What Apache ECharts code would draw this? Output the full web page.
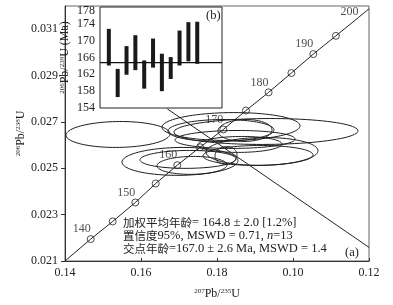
<!DOCTYPE html>
<html><head><meta charset="utf-8">
<script src="https://cdn.jsdelivr.net/npm/echarts@6/dist/echarts.min.js"></script>
<style>html,body{margin:0;padding:0;background:#fff}#c{width:393px;height:305px}</style>
</head><body><div id="c"></div>
<script>
// ---- main axis ticks ----
const xTickValues = [0.14, 0.16, 0.18, 0.20, 0.22];
const xTickLabels = ['0.14', '0.16', '0.18', '0.10', '0.12'];
const yTickValues = [0.021, 0.023, 0.025, 0.027, 0.029, 0.031];
const yTickLabels = ['0.021', '0.023', '0.025', '0.027', '0.029', '0.031'];

// ---- concordia curve (age markers, Ma) ----
const concordiaAges = [140, 145, 150, 155, 160, 165, 170, 175, 180, 185, 190, 195, 200];
const concordiaX = [0.14676, 0.15255, 0.15850, 0.16387, 0.16955, 0.17553, 0.18166, 0.18761, 0.19358, 0.19958, 0.20534, 0.21129, 0.21724];
const concordiaY = [0.021945, 0.022706, 0.023523, 0.024343, 0.025134, 0.025908, 0.026673, 0.027489, 0.028275, 0.029109, 0.029926, 0.030712, 0.031507];
const concordiaStart = [0.14, 0.021];
const concordiaEnd = [0.22, 0.03188];

// ---- discordia line ----
const discordiaX = [0.16692, 0.22];
const discordiaY = [0.027562, 0.021589];

// ---- error ellipses: centre, half-widths, correlation ----
const ellipseX  = [0.15395, 0.19289, 0.18368, 0.18105, 0.18737, 0.17026, 0.17237, 0.17342, 0.19184, 0.19079, 0.18237, 0.18605, 0.18474];
const ellipseY  = [0.026458, 0.026587, 0.026801, 0.026630, 0.026630, 0.025297, 0.025383, 0.025125, 0.025727, 0.025555, 0.025555, 0.026028, 0.026243];
const ellipseSX = [0.01368, 0.02421, 0.01816, 0.01395, 0.00711, 0.01526, 0.01263, 0.00921, 0.01474, 0.01447, 0.00289, 0.01105, 0.01579];
const ellipseSY = [0.000559, 0.000559, 0.000602, 0.000473, 0.000473, 0.000602, 0.000387, 0.000387, 0.000602, 0.000430, 0.000387, 0.000344, 0.000387];
const ellipseRho = [0.05, 0.05, 0.05, 0.05, 0.05, 0.05, 0.05, 0.05, 0.05, 0.05, 0.05, 0.05, 0.05];

// ---- inset (b): 206Pb/238U ages ----
const insetIndex = [1, 2, 3, 4, 5, 6, 7, 8, 9, 10, 11];
const ageLow  = [164.1, 156.6, 161.9, 163.0, 158.6, 163.6, 158.0, 160.9, 164.1, 165.1, 164.5];
const ageHigh = [172.8, 163.3, 168.7, 171.3, 165.3, 170.5, 166.9, 166.1, 172.4, 174.4, 174.5];
const weightedMean = 164.8;
const insetYTicks = [154, 158, 162, 166, 170, 174, 178];

const SERIF = '"Liberation Serif", "Times New Roman", serif';
const INK = '#222';

const chart = echarts.init(document.getElementById('c'), null, {renderer: 'canvas'});

const ellipseData = ellipseX.map((x, i) => [x, ellipseY[i], ellipseSX[i], ellipseSY[i], ellipseRho[i]]);
const concData = [concordiaStart].concat(concordiaX.map((x, i) => [x, concordiaY[i]])).concat([concordiaEnd]);
const markerData = concordiaX.map((x, i) => ({
  value: [x, concordiaY[i], concordiaAges[i]],
  symbolSize: concordiaAges[i] === 200 ? 0 : 7,
  label: {show: concordiaAges[i] % 10 === 0}
}));
const barData = insetIndex.map((v, i) => [v, ageLow[i], ageHigh[i]]);

const nameRich = {
  s: {fontSize: 7, fontFamily: SERIF, color: INK, verticalAlign: 'top', lineHeight: 12},
  n: {fontSize: 12, fontFamily: SERIF, color: INK, lineHeight: 12}
};

chart.setOption({
  animation: false,
  backgroundColor: '#fff',
  grid: [
    {left: 65, right: 24, top: 6, bottom: 43, show: true, borderColor: '#666', borderWidth: 1, backgroundColor: 'transparent'},
    {left: 100, top: 7, width: 122, height: 101, show: true, borderColor: INK, borderWidth: 1, backgroundColor: '#fff', z: 5}
  ],
  xAxis: [
    {
      type: 'value', gridIndex: 0, min: 0.14, max: 0.22,
      name: '{s|207}{n|Pb/}{s|235}{n|U}', nameLocation: 'middle', nameGap: 27, nameMoveOverlap: false,
      nameTextStyle: {rich: nameRich},
      axisLine: {show: true, lineStyle: {color: '#333', width: 1}},
      axisTick: {show: true, inside: true, length: 3, customValues: xTickValues, lineStyle: {color: '#333'}},
      axisLabel: {customValues: xTickValues, margin: 6, color: INK, fontFamily: SERIF, fontSize: 12,
        formatter: v => { const k = xTickValues.findIndex(t => Math.abs(t - v) < 1e-6); return k >= 0 ? xTickLabels[k] : ''; }},
      splitLine: {show: false}
    },
    {
      type: 'value', gridIndex: 1, min: 0, max: 13.8,
      axisLine: {show: false}, axisTick: {show: false}, axisLabel: {show: false}, splitLine: {show: false}
    }
  ],
  yAxis: [
    {
      type: 'value', gridIndex: 0, min: 0.021, max: 0.032,
      name: '{s|206}{n|Pb/}{s|238}{n|U}', nameLocation: 'middle', nameGap: 38, nameMoveOverlap: false,
      nameTextStyle: {rich: nameRich},
      axisLine: {show: true, lineStyle: {color: '#333', width: 1}},
      axisTick: {show: true, inside: false, length: 4, customValues: yTickValues, lineStyle: {color: '#333'}},
      axisLabel: {customValues: yTickValues, margin: 7, color: INK, fontFamily: SERIF, fontSize: 12,
        formatter: v => { const k = yTickValues.findIndex(t => Math.abs(t - v) < 1e-7); return k >= 0 ? yTickLabels[k] : ''; }},
      splitLine: {show: false}
    },
    {
      type: 'value', gridIndex: 1, min: 154, max: 178,
      name: '{s|206}{n|Pb/}{s|238}{n|U (Ma)}', nameLocation: 'middle', nameGap: 29, nameMoveOverlap: false,
      nameTextStyle: {rich: nameRich},
      axisLine: {show: false}, axisTick: {show: false},
      axisLabel: {customValues: insetYTicks, margin: 5, color: INK, fontFamily: SERIF, fontSize: 12,
        formatter: v => v === 178 ? '{t|178}' : String(v),
        rich: {t: {fontFamily: SERIF, fontSize: 12, color: INK, padding: [8, 0, 0, 0]}}},
      splitLine: {show: false}
    }
  ],
  series: [
    {
      type: 'custom', xAxisIndex: 0, yAxisIndex: 0, data: ellipseData, encode: {x: 0, y: 1}, z: 2,
      renderItem: (params, api) => {
        const cx = api.value(0), cy = api.value(1), sx = api.value(2), sy = api.value(3), r = api.value(4);
        const pts = [];
        for (let k = 0; k <= 90; k++) {
          const t = k / 90 * 2 * Math.PI;
          pts.push(api.coord([cx + sx * Math.cos(t), cy + sy * (r * Math.cos(t) + Math.sqrt(1 - r * r) * Math.sin(t))]));
        }
        return {type: 'polygon', shape: {points: pts}, style: {fill: 'none', stroke: '#1e1e1e', lineWidth: 1}};
      }
    },
    {
      type: 'line', xAxisIndex: 0, yAxisIndex: 0, data: concData, symbol: 'none',
      lineStyle: {color: '#222', width: 1}, z: 3
    },
    {
      type: 'line', xAxisIndex: 0, yAxisIndex: 0,
      data: discordiaX.map((x, i) => [x, discordiaY[i]]), symbol: 'none',
      lineStyle: {color: '#222', width: 1}, z: 3
    },
    {
      type: 'scatter', xAxisIndex: 0, yAxisIndex: 0, data: markerData, symbol: 'circle',
      itemStyle: {color: 'rgba(255,255,255,0)', borderColor: '#222', borderWidth: 1}, z: 4,
      label: {position: 'top', distance: 1, offset: [-9, 1], color: INK, fontFamily: SERIF, fontSize: 12,
        formatter: p => String(p.value[2])}
    },
    {
      type: 'custom', xAxisIndex: 1, yAxisIndex: 1, data: barData, encode: {x: 0, y: [1, 2]}, z: 10,
      renderItem: (params, api) => {
        const top = api.coord([api.value(0), api.value(2)]);
        const bot = api.coord([api.value(0), api.value(1)]);
        return {type: 'rect', shape: {x: top[0] - 2, y: top[1], width: 4, height: bot[1] - top[1]}, style: {fill: '#1a1a1a'}};
      }
    },
    {
      type: 'line', xAxisIndex: 1, yAxisIndex: 1, data: [[0, weightedMean], [13.8, weightedMean]], symbol: 'none',
      lineStyle: {color: '#111', width: 1.2}, z: 11
    }
  ],
  graphic: [
    {
      type: 'text', left: 123, top: 216, z: 20,
      style: {
        text: '{c|加权平均年龄}{l|= 164.8 ± 2.0 [1.2%]}\n{c|置信度}{l|95%, MSWD = 0.71, }{i|n}{l|=13}\n{c|交点年龄}{l|=167.0 ± 2.6 Ma, MSWD = 1.4}',
        rich: {
          c: {fontFamily: '"Noto Sans CJK SC", sans-serif', fontSize: 11.5, fill: INK, lineHeight: 13},
          l: {fontFamily: SERIF, fontSize: 12.5, fill: INK, lineHeight: 13},
          i: {fontFamily: SERIF, fontSize: 12.5, fontStyle: 'italic', fill: INK, lineHeight: 13}
        }
      }
    },
    {type: 'text', left: 345, top: 246, z: 20, style: {text: '(a)', font: '12.5px ' + SERIF, fill: INK}},
    {type: 'text', left: 206, top: 9, z: 20, style: {text: '(b)', font: '12.5px ' + SERIF, fill: INK}}
  ]
});
</script></body></html>
